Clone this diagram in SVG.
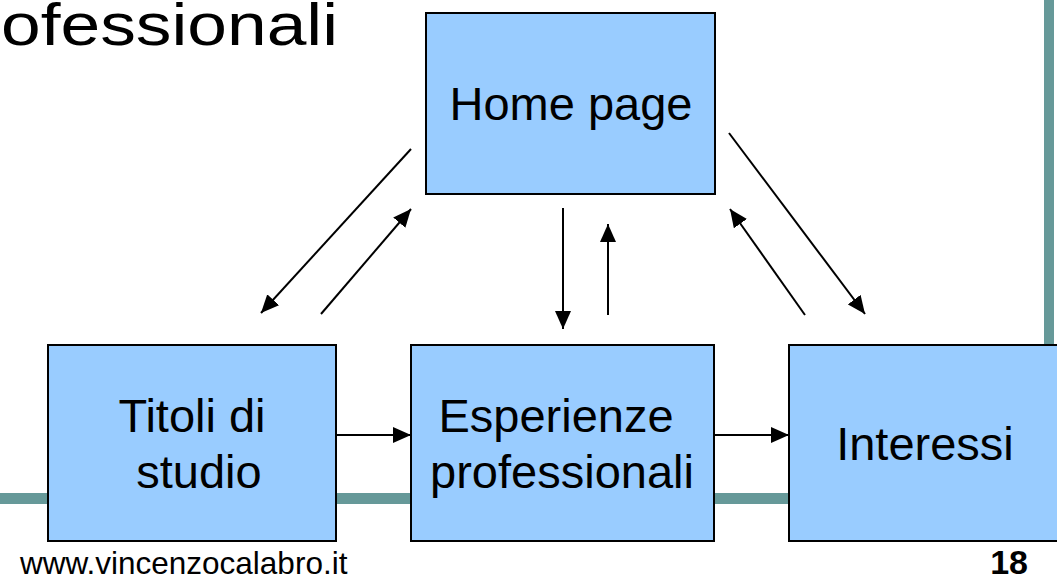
<svg xmlns="http://www.w3.org/2000/svg" width="1057" height="579" viewBox="0 0 1057 579">
<defs>
<style>
.box{fill:#99CCFF;stroke:#000;stroke-width:2}
.lbl{font-family:"Liberation Sans",Arial,sans-serif;font-size:47px;fill:#000}
.conn{stroke:#000;stroke-width:2;fill:none;marker-end:url(#ah)}
.bar{fill:#669999}
</style>
<marker id="ah" markerUnits="userSpaceOnUse" markerWidth="20" markerHeight="16" refX="18" refY="8" orient="auto">
<path d="M0,0 L18,8 L0,16 Z" fill="#000"/>
</marker>
</defs>
<rect width="1057" height="579" fill="#fff"/>
<rect class="bar" x="0" y="493" width="1057" height="11"/>
<rect class="bar" x="1044" y="0" width="10" height="346"/>
<text x="1" y="45" textLength="337" lengthAdjust="spacingAndGlyphs" font-family="Liberation Sans, Arial, sans-serif" font-size="60">ofessionali</text>
<g id="connectors">
<line class="conn" x1="411" y1="149" x2="261" y2="313"/>
<line class="conn" x1="321" y1="314" x2="411" y2="209"/>
<line class="conn" x1="563" y1="208" x2="563" y2="329"/>
<line class="conn" x1="608" y1="315" x2="608" y2="224"/>
<line class="conn" x1="729" y1="133" x2="865" y2="314"/>
<line class="conn" x1="805" y1="315" x2="730" y2="209"/>
<line class="conn" x1="336" y1="435" x2="411" y2="435"/>
<line class="conn" x1="714" y1="435" x2="789" y2="435"/>
</g>
<g id="home">
<rect class="box" x="426" y="13" width="289" height="181"/>
<text class="lbl" x="571" y="120" text-anchor="middle">Home page</text>
</g>
<g id="titoli">
<rect class="box" x="48" y="345" width="288" height="196"/>
<text class="lbl" x="192" y="432" text-anchor="middle">Titoli di</text>
<text class="lbl" x="199" y="488" text-anchor="middle">studio</text>
</g>
<g id="esperienze">
<rect class="box" x="411" y="345" width="303" height="196"/>
<text class="lbl" x="556" y="432" text-anchor="middle">Esperienze</text>
<text class="lbl" x="562" y="488" text-anchor="middle">professionali</text>
</g>
<g id="interessi">
<rect class="box" x="789" y="345" width="290" height="196"/>
<text class="lbl" x="925" y="460" text-anchor="middle">Interessi</text>
</g>
<text x="20" y="574" font-family="Liberation Sans, Arial, sans-serif" font-size="31.5">www.vincenzocalabro.it</text>
<text x="1028" y="574" text-anchor="end" font-family="Liberation Sans, Arial, sans-serif" font-size="34" font-weight="bold">18</text>
</svg>
